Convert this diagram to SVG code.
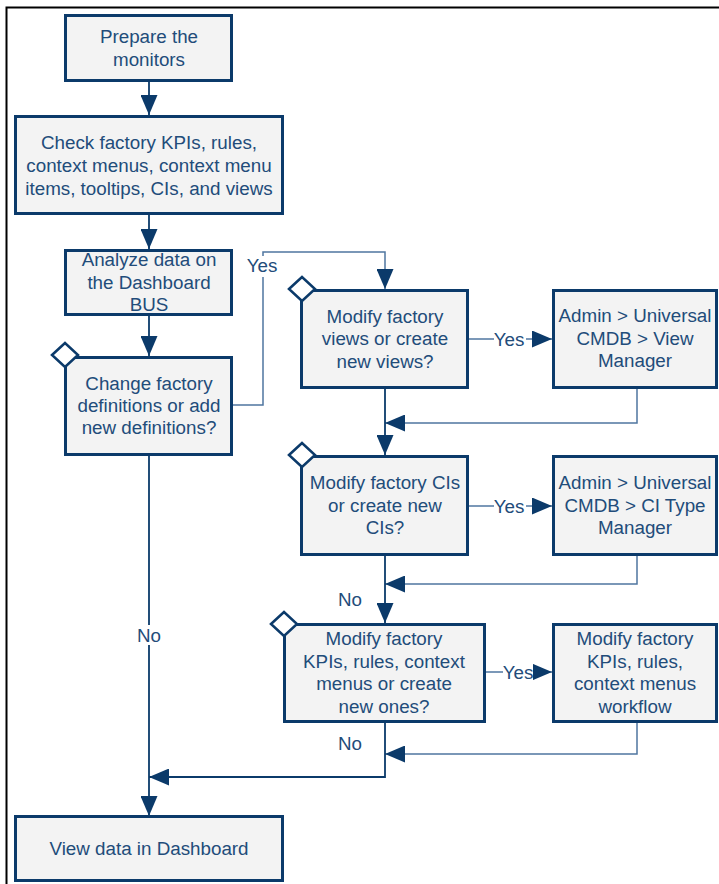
<svg xmlns="http://www.w3.org/2000/svg" width="719" height="884" viewBox="0 0 719 884">
<defs>
<marker id="ah" markerUnits="userSpaceOnUse" markerWidth="20" markerHeight="17" refX="20" refY="8.5" orient="auto">
<path d="M0,0 L20,8.5 L0,17 Z" fill="#0b3a6a"/>
</marker>
</defs>
<style>
.box{fill:#f3f3f3;stroke:#0b3a6a;stroke-width:3}
.dia{fill:#ffffff;stroke:#0b3a6a;stroke-width:2.5}
.t{font-family:"Liberation Sans",Arial,sans-serif;font-size:18.8px;fill:#224c7a;text-anchor:middle}
.dk{fill:none;stroke:#0b3a6a;stroke-width:1.8}
.lt{fill:none;stroke:#4f76a0;stroke-width:1.5}
.bg{fill:#ffffff}
</style>
<rect width="719" height="884" fill="#ffffff"/>
<path d="M6.5,884 V7.5 H719" fill="none" stroke="#000" stroke-width="2"/>

<g id="connectors">
<path class="dk" d="M149,82 V115" marker-end="url(#ah)"/>
<path class="dk" d="M149,215 V249" marker-end="url(#ah)"/>
<path class="dk" d="M149,316 V356" marker-end="url(#ah)"/>
<path class="lt" d="M233,405 H263 V252 H385 V289" marker-end="url(#ah)"/>
<path class="lt" d="M469,339 H552" marker-end="url(#ah)"/>
<path class="lt" d="M637,389 V423 H385" marker-end="url(#ah)"/>
<path class="dk" d="M385,389 V455" marker-end="url(#ah)"/>
<path class="lt" d="M469,506 H552" marker-end="url(#ah)"/>
<path class="lt" d="M637,556 V584 H385" marker-end="url(#ah)"/>
<path class="dk" d="M385,556 V623" marker-end="url(#ah)"/>
<path class="lt" d="M486,672 H552" marker-end="url(#ah)"/>
<path class="lt" d="M637,723 V754 H385" marker-end="url(#ah)"/>
<path class="dk" d="M385,723 V777 H149" marker-end="url(#ah)"/>
<path class="dk" d="M149,456 V816" marker-end="url(#ah)"/>
<rect class="bg" x="244" y="256" width="38" height="21"/>
<text class="t" x="262" y="271.5">Yes</text>
<rect class="bg" x="494" y="330" width="32" height="20"/>
<text class="t" x="509" y="345.5">Yes</text>
<rect class="bg" x="494" y="497" width="32" height="20"/>
<text class="t" x="509" y="512.5">Yes</text>
<rect class="bg" x="503" y="663" width="30" height="20"/>
<text class="t" x="518" y="678.5">Yes</text>
<text class="t" x="350" y="605.5">No</text>
<text class="t" x="350" y="749.5">No</text>
<rect class="bg" x="135" y="625" width="28" height="20"/>
<text class="t" x="149" y="641.5">No</text>
</g>

<g id="n1">
<rect class="box" x="65.5" y="15.5" width="166" height="65"/>
<text class="t" x="149" y="42.5">Prepare the</text>
<text class="t" x="149" y="65.5">monitors</text>
</g>
<g id="n2">
<rect class="box" x="15.5" y="116.5" width="267" height="97"/>
<text class="t" x="149" y="148.5">Check factory KPIs, rules,</text>
<text class="t" x="149" y="171.5">context menus, context menu</text>
<text class="t" x="149" y="194.5">items, tooltips, CIs, and views</text>
</g>
<g id="n3">
<rect class="box" x="65.5" y="250.5" width="166" height="64"/>
<text class="t" x="149" y="265.5">Analyze data on</text>
<text class="t" x="149" y="288.5">the Dashboard</text>
<text class="t" x="149" y="310.5">BUS</text>
</g>
<g id="n4">
<rect class="box" x="65.5" y="357.5" width="166" height="97"/>
<path class="dia" d="M52,355 L65,343 L78,355 L65,367 Z"/>
<text class="t" x="149" y="389.5">Change factory</text>
<text class="t" x="149" y="411.5">definitions or add</text>
<text class="t" x="149" y="433.5">new definitions?</text>
</g>
<g id="n5">
<rect class="box" x="301.5" y="290.5" width="166" height="97"/>
<path class="dia" d="M289,289 L302,277 L315,289 L302,301 Z"/>
<text class="t" x="385" y="322.5">Modify factory</text>
<text class="t" x="385" y="344.5">views or create</text>
<text class="t" x="385" y="367.5">new views?</text>
</g>
<g id="n6">
<rect class="box" x="553.5" y="290.5" width="163" height="97"/>
<text class="t" x="635" y="321.5">Admin &gt; Universal</text>
<text class="t" x="635" y="344.5">CMDB &gt; View</text>
<text class="t" x="635" y="366.5">Manager</text>
</g>
<g id="n7">
<rect class="box" x="301.5" y="456.5" width="166" height="98"/>
<path class="dia" d="M289,455 L302,443 L315,455 L302,467 Z"/>
<text class="t" x="385" y="488.5">Modify factory CIs</text>
<text class="t" x="385" y="511.5">or create new</text>
<text class="t" x="385" y="533.5">CIs?</text>
</g>
<g id="n8">
<rect class="box" x="553.5" y="456.5" width="163" height="98"/>
<text class="t" x="635" y="488.5">Admin &gt; Universal</text>
<text class="t" x="635" y="511.5">CMDB &gt; CI Type</text>
<text class="t" x="635" y="533.5">Manager</text>
</g>
<g id="n9">
<rect class="box" x="284.5" y="624.5" width="200" height="97"/>
<path class="dia" d="M271,624 L284,612 L297,624 L284,636 Z"/>
<text class="t" x="384" y="644.5">Modify factory</text>
<text class="t" x="384" y="667.5">KPIs, rules, context</text>
<text class="t" x="384" y="689.5">menus or create</text>
<text class="t" x="384" y="712.5">new ones?</text>
</g>
<g id="n10">
<rect class="box" x="553.5" y="624.5" width="163" height="97"/>
<text class="t" x="635" y="644.5">Modify factory</text>
<text class="t" x="635" y="667.5">KPIs, rules,</text>
<text class="t" x="635" y="689.5">context menus</text>
<text class="t" x="635" y="712.5">workflow</text>
</g>
<g id="n11">
<rect class="box" x="15.5" y="816.5" width="267" height="64"/>
<text class="t" x="149" y="854.5">View data in Dashboard</text>
</g>
</svg>
